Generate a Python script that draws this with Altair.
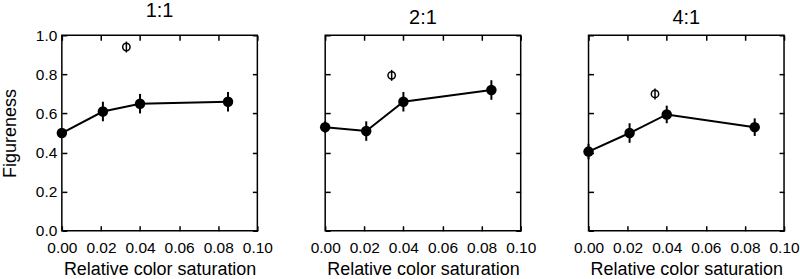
import altair as alt
import pandas as pd

panels = ["1:1", "2:1", "4:1"]
saturation = [0.0, 0.021, 0.04, 0.085]
figureness = {
    "1:1": [0.50, 0.61, 0.65, 0.66],
    "2:1": [0.53, 0.51, 0.66, 0.72],
    "4:1": [0.405, 0.50, 0.595, 0.53],
}
errors = {
    "1:1": [0.02, 0.05, 0.05, 0.05],
    "2:1": [0.03, 0.05, 0.05, 0.05],
    "4:1": [0.04, 0.05, 0.045, 0.045],
}
open_sat = {"1:1": 0.033, "2:1": 0.034, "4:1": 0.034}
open_fig = {"1:1": 0.94, "2:1": 0.795, "4:1": 0.70}
open_err = {"1:1": 0.028, "2:1": 0.028, "4:1": 0.028}

x_ticks = [0.0, 0.02, 0.04, 0.06, 0.08, 0.10]
y_ticks = [0.0, 0.2, 0.4, 0.6, 0.8, 1.0]

FONT = "Liberation Sans"
xs = alt.Scale(domain=[0, 0.1], nice=False, zero=False)
ys = alt.Scale(domain=[0, 1], nice=False)


def label_axis(orient, show, title):
    kw = dict(orient=orient, ticks=False, domain=False, grid=False,
              labelFlush=False, labelOverlap=False, labelFont=FONT,
              labelFontSize=15.5, labelColor="black", titleFont=FONT,
              titleFontSize=18, titleFontWeight="normal", titleColor="black")
    if orient == "bottom":
        kw.update(values=x_ticks, format=".2f", labelPadding=10, titlePadding=4)
    else:
        kw.update(values=y_ticks, format=".1f", labelPadding=5, titlePadding=16)
    if show:
        kw["title"] = title
    else:
        kw.update(labels=False, title=None)
    return alt.Axis(**kw)


def tick_axis(orient):
    vals = x_ticks if orient in ("bottom", "top") else y_ticks
    return alt.Axis(orient=orient, labels=False, domain=False, grid=False,
                    ticks=True, tickSize=5, tickWidth=1.5, tickColor="black",
                    offset=-5, title=None, values=vals)


def panel(name, first):
    df = pd.DataFrame({
        "sat": saturation,
        "fig": figureness[name],
        "lo": [f - e for f, e in zip(figureness[name], errors[name])],
        "hi": [f + e for f, e in zip(figureness[name], errors[name])],
    })
    od = pd.DataFrame({
        "sat": [open_sat[name]],
        "fig": [open_fig[name]],
        "lo": [open_fig[name] - open_err[name]],
        "hi": [open_fig[name] + open_err[name]],
    })
    line = alt.Chart(df).mark_line(color="black", strokeWidth=2).encode(
        x=alt.X("sat:Q", scale=xs, axis=label_axis("bottom", True, "Relative color saturation")),
        y=alt.Y("fig:Q", scale=ys, axis=label_axis("left", first, "Figureness")),
    )
    bars = alt.Chart(df).mark_rule(color="black", strokeWidth=2).encode(
        x=alt.X("sat:Q", scale=xs, axis=tick_axis("bottom")),
        y=alt.Y("lo:Q", scale=ys, axis=tick_axis("left")),
        y2="hi:Q",
    )
    dots = alt.Chart(df).mark_point(filled=True, color="black", size=110, opacity=1).encode(
        x=alt.X("sat:Q", scale=xs, axis=tick_axis("top")),
        y=alt.Y("fig:Q", scale=ys, axis=tick_axis("right")),
    )
    obar = alt.Chart(od).mark_rule(color="black", strokeWidth=1.5).encode(
        x=alt.X("sat:Q", scale=xs, axis=None),
        y=alt.Y("lo:Q", scale=ys, axis=None),
        y2="hi:Q",
    )
    opt = alt.Chart(od).mark_point(filled=False, color="black", size=55,
                                   strokeWidth=1.5, opacity=1).encode(
        x=alt.X("sat:Q", scale=xs, axis=None),
        y=alt.Y("fig:Q", scale=ys, axis=None),
    )
    return alt.layer(line, bars, dots, obar, opt).resolve_axis(
        x="independent", y="independent"
    ).properties(
        width=196, height=196,
        title=alt.TitleParams(name, fontSize=20, fontWeight="normal", font=FONT,
                              color="black", offset=6, dy=-1),
    )


chart = alt.hconcat(
    *[panel(p, i == 0) for i, p in enumerate(panels)], spacing=36
).properties(
    padding={"left": 0, "top": 0, "right": 0, "bottom": 0}
).configure_view(stroke="black", strokeWidth=1.5)

chart.save("out.html", embed_options={"renderer": "svg", "actions": False})
